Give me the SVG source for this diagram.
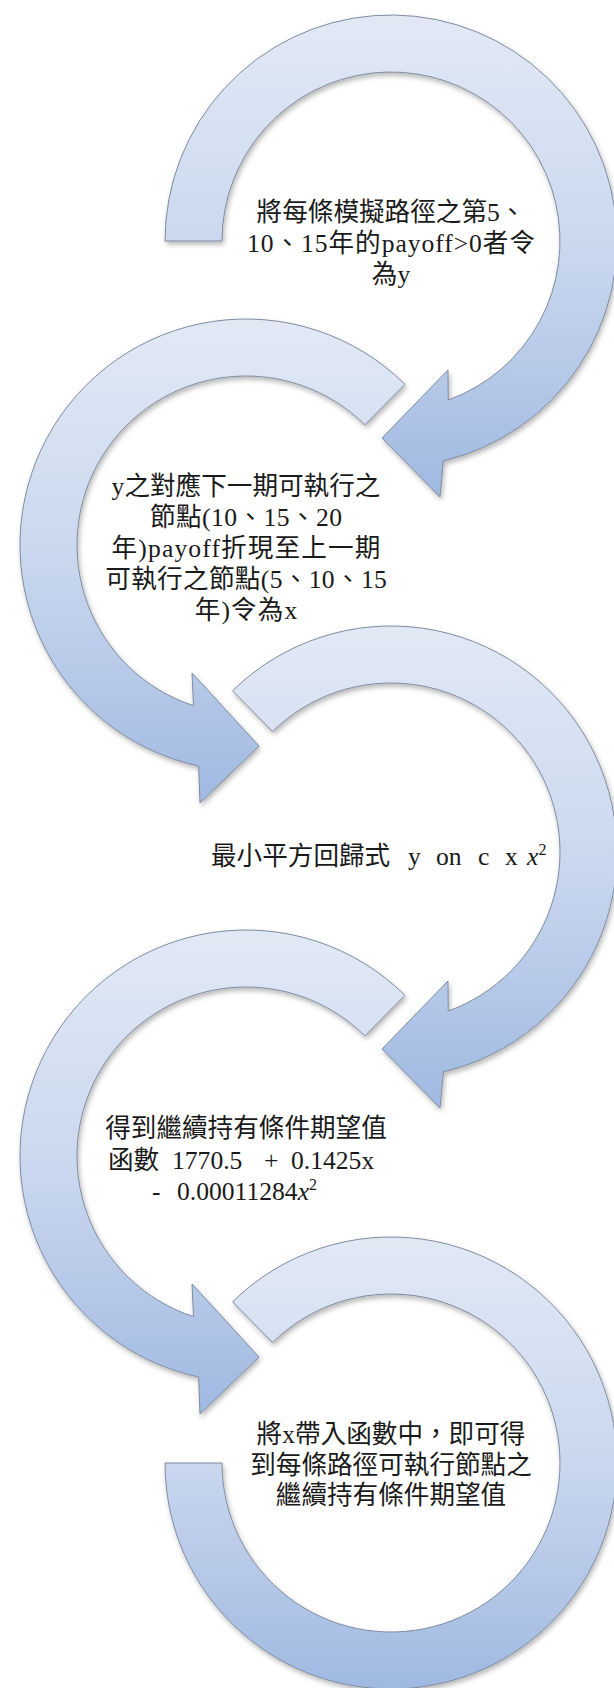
<svg xmlns="http://www.w3.org/2000/svg" width="614" height="1688" viewBox="0 0 614 1688">
<defs>
<linearGradient id="g" x1="0" y1="0" x2="0" y2="1">
<stop offset="0" stop-color="#e2e9f5"/>
<stop offset="0.5" stop-color="#c9d7ee"/>
<stop offset="1" stop-color="#a0b9e1"/>
</linearGradient>
<filter id="sh" x="-10%" y="-10%" width="125%" height="125%">
<feDropShadow dx="1.5" dy="3" stdDeviation="2.5" flood-color="#000" flood-opacity="0.28"/>
</filter>
<style>
.ring{fill:url(#g);stroke:#7f8ba0;stroke-width:1;filter:url(#sh)}
.t{font-family:"Liberation Serif","Noto Sans CJK TC",serif;font-size:25.6px;fill:#1a1a1a}
.m{text-anchor:middle}
.i{font-style:italic}
.s{font-size:16px}
</style>
</defs>
<rect width="614" height="1688" fill="#fff"/>
<g id="step1">
<path class="ring" d="M 165 241 A 226 226 0 1 1 443.38 460.85 L 440 497 L 382 438 L 448 370 L 448.25 400.01 A 169 169 0 1 0 222 241 Z"/>
<text class="t m" x="391" y="221" textLength="268.8" lengthAdjust="spacing">將每條模擬路徑之第5、</text>
<text class="t m" x="391" y="252" textLength="288" lengthAdjust="spacing">10、15年的payoff&gt;0者令</text>
<text class="t m" x="391" y="283">為y</text>
</g>
<g id="step2">
<path class="ring" d="M 404.96 384.35 A 226 226 0 1 0 198.63 765.98 L 200 803 L 259 746 L 192 673 L 193.5 705.64 A 169 169 0 1 1 364.87 424.87 Z"/>
<text class="t m" x="246" y="495" textLength="268.8" lengthAdjust="spacing">y之對應下一期可執行之</text>
<text class="t m" x="246" y="526" textLength="192" lengthAdjust="spacing">節點(10、15、20</text>
<text class="t m" x="246" y="557" textLength="268.8" lengthAdjust="spacing">年)payoff折現至上一期</text>
<text class="t m" x="246" y="588" textLength="281.6" lengthAdjust="spacing">可執行之節點(5、10、15</text>
<text class="t m" x="246" y="619" textLength="102.4" lengthAdjust="spacing">年)令為x</text>
</g>
<g id="step3">
<path class="ring" d="M 232.59 690.81 A 226 226 0 1 1 443.38 1071.85 L 440 1108 L 382 1049 L 448 981 L 448.25 1011.01 A 169 169 0 1 0 272.55 731.46 Z"/>
<text class="t" y="864.5"><tspan x="211">最小平方回歸式</tspan><tspan x="408">y</tspan><tspan x="436">on</tspan><tspan x="478">c</tspan><tspan x="505">x</tspan><tspan x="527" class="i">x</tspan><tspan class="s" dy="-10">2</tspan></text>
</g>
<g id="step4">
<path class="ring" d="M 404.96 995.35 A 226 226 0 1 0 198.63 1376.98 L 200 1414 L 259 1357 L 192 1284 L 193.5 1316.64 A 169 169 0 1 1 364.87 1035.87 Z"/>
<text class="t m" x="246" y="1137" textLength="281.6" lengthAdjust="spacing">得到繼續持有條件期望值</text>
<text class="t" y="1168.5"><tspan x="108">函數</tspan><tspan x="172">1770.5</tspan><tspan x="264">+</tspan><tspan x="291">0.1425x</tspan></text>
<text class="t" y="1200"><tspan x="152">-</tspan><tspan x="177">0.00011284</tspan><tspan class="i">x</tspan><tspan class="s" dy="-10">2</tspan></text>
</g>
<g id="step5">
<path class="ring" d="M 232.59 1301.81 A 226 226 0 1 1 165 1463 L 222 1463 A 169 169 0 1 0 272.55 1342.46 Z"/>
<text class="t m" x="391" y="1443" textLength="268.8" lengthAdjust="spacing">將x帶入函數中，即可得</text>
<text class="t m" x="391" y="1473.5" textLength="281.6" lengthAdjust="spacing">到每條路徑可執行節點之</text>
<text class="t m" x="391" y="1504" textLength="230.4" lengthAdjust="spacing">繼續持有條件期望值</text>
</g>
<g id="connectors"/>
</svg>
